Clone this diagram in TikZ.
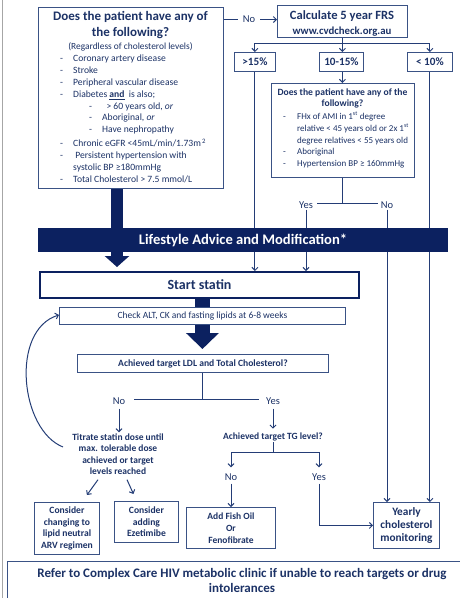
\documentclass[tikz,border=0pt]{standalone}
\usepackage{fontspec}
\setmainfont{Carlito}
\usetikzlibrary{arrows.meta}
\definecolor{navy}{HTML}{0C2160}
\definecolor{txt}{HTML}{1C3266}
\definecolor{lnc}{HTML}{243D76}
\definecolor{bdc}{HTML}{3A5285}
\pgfdeclarelayer{bg}
\pgfsetlayers{bg,main}
\begin{document}
\begin{tikzpicture}[x=1pt,y=-1pt,
  box/.style={draw=bdc, line width=0.9pt, fill=white, inner sep=0pt, anchor=north west},
  lbl/.style={text=txt, inner sep=1pt, align=center},
  yn/.style={text=txt, inner ysep=1pt, inner xsep=4pt, font=\fontsize{10.5}{12}\selectfont},
  conn/.style={draw=lnc, line width=1pt},
  arr/.style={draw=lnc, line width=1pt, -{Straight Barb[length=3pt,width=6pt]}},
]
\useasboundingbox (0,0) rectangle (459,598);
\draw[gray!70, line width=0.8pt] (2,0) -- (2,598);

% ---------- boxes ----------
\node[box, minimum width=185pt, minimum height=181pt] (b1) at (38,7) {};
\node[lbl, font=\fontsize{13}{16}\bfseries\selectfont] (b1t) at (130.5,25) {Does the patient have any of\\the following?};
\node[lbl, font=\fontsize{9.4}{10}\selectfont] (b1s) at (130.5,47) {(Regardless of cholesterol levels)};
\node[text=txt, anchor=north west, inner sep=0pt, align=left, font=\fontsize{9.6}{11.8}\selectfont] (list1) at (60,55) {%
\makebox[13pt][l]{-}Coronary artery disease\\
\makebox[13pt][l]{-}Stroke\\
\makebox[13pt][l]{-}Peripheral vascular disease\\
\makebox[13pt][l]{-}Diabetes \underline{\textbf{and}}\ \ is also;\\
\hspace{29pt}\makebox[13pt][l]{-}\ \ > 60 years old, \textit{or}\\
\hspace{29pt}\makebox[13pt][l]{-}Aboriginal, \textit{or}\\
\hspace{29pt}\makebox[13pt][l]{-}Have nephropathy\\[2.5pt]
\makebox[13pt][l]{-}Chronic eGFR <45mL/min/1.73m\textsuperscript{\,2}\\
\makebox[13pt][l]{-}\ Persistent hypertension with\\
\makebox[13pt][l]{}systolic BP ≥180mmHg\\
\makebox[13pt][l]{-}Total Cholesterol > 7.5 mmol/L};

\node[box, minimum width=130pt, minimum height=32pt] (frs) at (277,5) {};
\node[lbl, font=\fontsize{12.6}{15}\bfseries\selectfont] (frst) at (342,23) {Calculate 5 year FRS\\{\fontsize{10.8}{11}\selectfont www.cvdcheck.org.au}};

\node[box, minimum width=41pt, minimum height=19pt] (p15) at (234,52) {};
\node[lbl, font=\fontsize{11.2}{12}\bfseries\selectfont] at (p15.center) (p15t) {>15\%};
\node[box, minimum width=44pt, minimum height=19pt] (p1015) at (319,52) {};
\node[lbl, font=\fontsize{11.2}{12}\bfseries\selectfont] at (p1015.center) (p1015t) {10-15\%};
\node[box, minimum width=45pt, minimum height=19pt] (plt10) at (407,52) {};
\node[lbl, font=\fontsize{11.2}{12}\bfseries\selectfont] at (plt10.center) (plt10t) {< 10\%};

\node[box, minimum width=143pt, minimum height=94pt] (b2) at (271,83) {};
\node[lbl, font=\fontsize{9.6}{11.5}\bfseries\selectfont] (b2t) at (342.5,98.5) {Does the patient have any of the\\following?};
\node[text=txt, anchor=north west, inner sep=0pt, align=left, font=\fontsize{9}{11.6}\selectfont] (list2) at (283,112) {%
\makebox[14pt][l]{-}FHx of AMI in 1\textsuperscript{st} degree\\
\makebox[14pt][l]{}relative < 45 years old or 2x 1\textsuperscript{st}\\
\makebox[14pt][l]{}degree relatives < 55 years old\\
\makebox[14pt][l]{-}Aboriginal\\
\makebox[14pt][l]{-}Hypertension BP ≥ 160mmHg};

\node[yn, inner xsep=5pt] (no1) at (249,19.5) {No};
\node[yn] (yes2) at (306,205) {Yes};
\node[yn, inner xsep=3pt] (no2) at (387,205) {No};

\node[box, draw=navy, line width=2pt, minimum width=319pt, minimum height=26pt] (statin) at (39,271) {};
\node[lbl, font=\fontsize{14}{15}\bfseries\selectfont] (statint) at (statin.center) {Start statin};

\node[box, minimum width=286pt, minimum height=17pt] (check) at (59,307) {};
\node[lbl, font=\fontsize{9.5}{10}\selectfont] (checkt) at (check.center) {Check ALT, CK and fasting lipids at 6-8 weeks};

\node[box, minimum width=251pt, minimum height=18pt] (ldl) at (77,354) {};
\node[lbl, font=\fontsize{9.6}{10}\bfseries\selectfont] (ldlt) at (ldl.center) {Achieved target LDL and Total Cholesterol?};

\node[yn, inner xsep=9pt] (no3) at (119,401) {No};
\node[yn, inner xsep=7pt] (yes3) at (273,401) {Yes};
\node[lbl, font=\fontsize{9.5}{11.4}\bfseries\selectfont] (titr) at (118,454) {Titrate statin dose until\\max. tolerable dose\\achieved or target\\levels reached};
\node[lbl, font=\fontsize{9.5}{10}\bfseries\selectfont] (tg) at (273,437) {Achieved target TG level?};
\node[yn] (no4) at (231,477) {No};
\node[yn] (yes4) at (319,477) {Yes};

\node[box, minimum width=65pt, minimum height=52pt] (cons1) at (34,502) {};
\node[lbl, font=\fontsize{9.6}{11.6}\bfseries\selectfont] (cons1t) at (cons1.center) {Consider\\changing to\\lipid neutral\\ARV regimen};
\node[box, minimum width=64pt, minimum height=41pt] (cons2) at (114,501) {};
\node[lbl, font=\fontsize{9.6}{11.6}\bfseries\selectfont] (cons2t) at (cons2.center) {Consider\\adding\\Ezetimibe};
\node[box, minimum width=89pt, minimum height=41pt] (fish) at (186,507) {};
\node[lbl, font=\fontsize{9.5}{12}\bfseries\selectfont] (fisht) at (fish.center) {Add Fish Oil\\Or\\Fenofibrate};
\node[box, minimum width=66pt, minimum height=46pt] (yearly) at (373,502) {};
\node[lbl, font=\fontsize{11.3}{13.3}\bfseries\selectfont] (yearlyt) at (yearly.center) {Yearly\\cholesterol\\monitoring};

\node[box, minimum width=470pt, minimum height=60pt] (refer) at (7,561) {};
\node[lbl, font=\fontsize{13}{15}\bfseries\selectfont] (refert) at (242,580.5) {Refer to Complex Care HIV metabolic clinic if unable to reach targets or drug\\intolerances};

% ---------- bar (on top of lines) ----------
\node[fill=navy, minimum width=410pt, minimum height=24pt, inner sep=0pt, text=white, font=\fontsize{14.6}{16}\bfseries\selectfont] (bar) at (243,240) {Lifestyle Advice and Modification*};

\begin{pgfonlayer}{bg}
% fat arrow from box 1
\coordinate (ax) at (117,0);
\path (statin.north -| ax) ++(0,-4) coordinate (tip1);
\draw[navy, line width=12pt, -{Triangle[length=11pt,width=24pt]}] (b1.south -| ax) -- (tip1);
% fat arrow from statin
\path (ldl.north -| check.center) ++(0,-5) coordinate (tip2);
\draw[navy, line width=15pt, -{Triangle[length=16pt,width=32pt]}] (statin.south -| check.center) -- (tip2);

% no -> FRS
\draw[conn] (b1.east |- no1) -- (no1.west);
\draw[arr] (no1.east) -- (frs.west |- no1);
% FRS split
\draw[conn] (frs.south) -- ++(0,6) coordinate (j1);
\draw[arr] (j1) -| (p15.north);
\draw[arr] (j1) -- (p1015.north -| j1);
\draw[arr] (j1) -| (plt10.north);
\draw[arr] (p1015.south -| j1) -- (b2.north -| j1);
% verticals
\draw[arr] (p15.south) -- (statin.north -| p15.south);
\draw[arr] (plt10.south) -- (yearly.north -| plt10.south);
\draw[conn] (b2.south -| j1) -- ++(0,26) coordinate (j2);
\draw[conn] (yes2.east |- j2) -- (no2.west |- j2);
\draw[arr] (yes2.south) -- (statin.north -| yes2.south);
\draw[arr] (no2.south) -- (yearly.north -| no2.south);
% LDL split
\draw[conn] (ldl.south -| check.center) -- ++(0,27) coordinate (j3);
\draw[conn] (no3.east |- j3) -- (yes3.west |- j3);
\draw[arr] ([yshift=-3pt]no3.south) -- (titr.north -| no3.south);
\draw[arr] ([yshift=-3pt]yes3.south) -- ([yshift=3pt]tg.north);
% TG split
\draw[conn] (tg.south) -- ++(0,10) coordinate (j4);
\draw[arr] (j4) -| ([yshift=5pt]no4.north);
\draw[arr] (j4) -| ([yshift=5pt]yes4.north);
\draw[arr] ([yshift=-2pt]no4.south) -- (fish.north -| no4.south);
\draw[arr] ([yshift=-2pt]yes4.south) |- (yearly.west);
% titrate to consider
\draw[arr] ([xshift=-20pt,yshift=-4pt]titr.south) -- ([xshift=20pt,yshift=7pt]cons1.north);
\draw[arr] ([xshift=9pt,yshift=-4pt]titr.south) -- ([xshift=-13pt,yshift=7pt]cons2.north);
% loop back
\coordinate (lp) at (63,447);
\draw[arr] (lp) .. controls (20,430) and (10,330) .. ([yshift=1pt]check.west);
\end{pgfonlayer}
\end{tikzpicture}
\end{document}
